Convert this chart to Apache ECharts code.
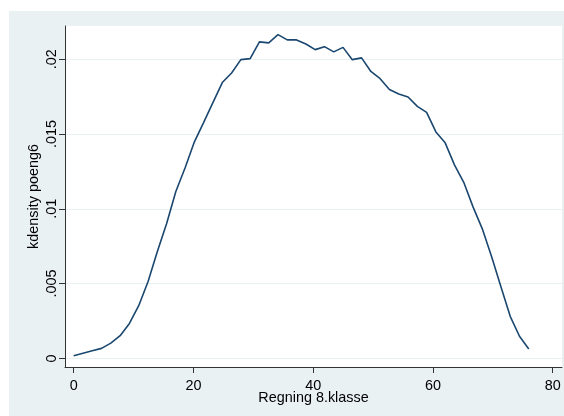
<!DOCTYPE html>
<html>
<head>
<meta charset="utf-8">
<script src="https://cdn.jsdelivr.net/npm/echarts@6/dist/echarts.min.js"></script>
<style>
  html, body { margin: 0; padding: 0; background: #ffffff; }
  #chart { width: 564px; height: 416px; }
</style>
</head>
<body>
<div id="chart"></div>
<script>
// Evaluation points of the kernel density estimate (score, 0..76)
const scores = [0.00, 1.55, 3.10, 4.65, 6.20, 7.76, 9.31, 10.86, 12.41, 13.96,
  15.51, 17.06, 18.61, 20.16, 21.71, 23.27, 24.82, 26.37, 27.92, 29.47,
  31.02, 32.57, 34.12, 35.67, 37.22, 38.78, 40.33, 41.88, 43.43, 44.98,
  46.53, 48.08, 49.63, 51.18, 52.73, 54.29, 55.84, 57.39, 58.94, 60.49,
  62.04, 63.59, 65.14, 66.69, 68.24, 69.80, 71.35, 72.90, 74.45, 76.00];

// Estimated density at each score
const density = [0.00018, 0.00035, 0.00051, 0.00067, 0.00102, 0.00152, 0.00234, 0.00352, 0.00512, 0.00713,
  0.00900, 0.01116, 0.01274, 0.01448, 0.01578, 0.01711, 0.01844, 0.01908, 0.01997, 0.02004,
  0.02116, 0.02109, 0.02164, 0.02129, 0.02129, 0.02102, 0.02064, 0.02084, 0.02049, 0.02079,
  0.01997, 0.02009, 0.01918, 0.01870, 0.01798, 0.01767, 0.01747, 0.01685, 0.01645, 0.01514,
  0.01441, 0.01294, 0.01177, 0.01013, 0.00866, 0.00679, 0.00479, 0.00281, 0.00148, 0.00063];

// Axis tick values
const xTicks = [0, 20, 40, 60, 80];
const yTicks = [0, 0.005, 0.01, 0.015, 0.02];

const textFont = 'Liberation Sans, Arial, Helvetica, sans-serif';
const bgColor = '#eaf1f3';

const chart = echarts.init(document.getElementById('chart'), null, { renderer: 'canvas' });

chart.setOption({
  backgroundColor: '#ffffff',
  animation: false,
  graphic: [{
    type: 'rect',
    left: 9, top: 11,
    shape: { width: 555, height: 405 },
    style: { fill: bgColor },
    z: -10, silent: true
  }],
  grid: {
    left: 65, top: 26, right: 2, bottom: 49,
    show: true, backgroundColor: '#ffffff', borderWidth: 0
  },
  xAxis: {
    type: 'value',
    min: -1.45, max: 81.55,
    name: 'Regning 8.klasse',
    nameLocation: 'middle',
    nameGap: 24,
    nameMoveOverlap: false,
    nameTextStyle: { fontFamily: textFont, fontSize: 14.4, color: '#000' },
    axisLine: { show: true, onZero: false, lineStyle: { color: '#333', width: 1 } },
    axisTick: { show: true, customValues: xTicks, length: 6, lineStyle: { color: '#333' } },
    axisLabel: {
      customValues: xTicks, margin: 12,
      fontFamily: textFont, fontSize: 14.4, color: '#000'
    },
    splitLine: { show: false }
  },
  yAxis: {
    type: 'value',
    min: -0.000575, max: 0.02222,
    name: 'kdensity poeng6',
    nameLocation: 'middle',
    nameGap: 24,
    nameMoveOverlap: false,
    nameTextStyle: { fontFamily: textFont, fontSize: 14.4, color: '#000' },
    axisLine: { show: true, onZero: false, lineStyle: { color: '#333', width: 1 } },
    axisTick: { show: true, customValues: yTicks, length: 6, lineStyle: { color: '#333' } },
    axisLabel: {
      customValues: yTicks, margin: 6, rotate: 90,
      fontFamily: textFont, fontSize: 14.4, color: '#000',
      formatter: v => v === 0 ? '0' : String(+v.toFixed(4)).replace(/^0\./, '.')
    },
    splitLine: { show: true, lineStyle: { color: bgColor, width: 1 } }
  },
  series: [{
    type: 'line',
    data: scores.map((s, i) => [s, density[i]]),
    showSymbol: false,
    symbol: 'none',
    lineStyle: { color: '#1a476f', width: 1.6 },
    silent: true
  }]
});
</script>
</body>
</html>
